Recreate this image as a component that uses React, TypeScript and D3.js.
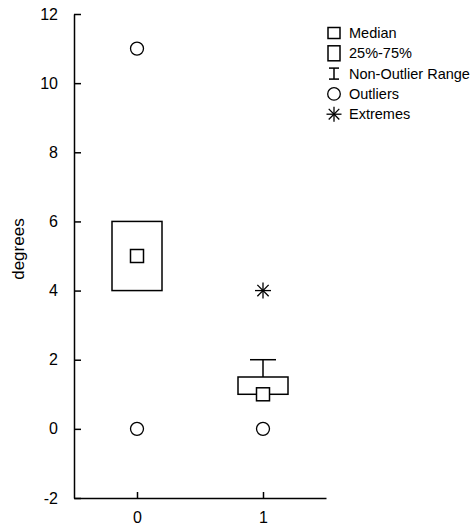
import React, { useEffect, useRef } from "react";
import * as d3 from "d3";

// box-plot summaries per category
const categories = [0, 1];
const medians = [5, 1];
const q1 = [4, 1];
const q3 = [6, 1.5];
const whiskerLow = [4, 1];
const whiskerHigh = [6, 2];
const outliers = [
  { cat: 0, value: 11 },
  { cat: 0, value: 0 },
  { cat: 1, value: 0 },
];
const extremes = [{ cat: 1, value: 4 }];
const yTicks = [-2, 0, 2, 4, 6, 8, 10, 12];
const legendLabels = ["Median", "25%-75%", "Non-Outlier Range", "Outliers", "Extremes"];

const FONT = "'Liberation Sans', Arial, Helvetica, sans-serif";

function asterisk(g: any, cx: number, cy: number, r: number) {
  const d = r * Math.SQRT1_2;
  const segs = [
    [cx - r, cy, cx + r, cy],
    [cx, cy - r, cx, cy + r],
    [cx - d, cy - d, cx + d, cy + d],
    [cx - d, cy + d, cx + d, cy - d],
  ];
  segs.forEach(s => {
    g.append("line")
      .attr("x1", s[0]).attr("y1", s[1]).attr("x2", s[2]).attr("y2", s[3])
      .attr("stroke", "#000").attr("stroke-width", 1.3);
  });
}

export default function App() {
  const chart = useRef<SVGSVGElement>(null);

  useEffect(() => {
    const svg = d3.select(chart.current);
    svg.selectAll("*").remove();

    const x = d3.scaleLinear().domain([-0.5, 1.5]).range([74, 326]);
    const y = d3.scaleLinear().domain([-2, 12]).range([498, 14]);
    const boxW = 50;
    const sw = 1.5;

    // y axis (plain hyphen for negatives, like the original)
    const yAxis = d3.axisLeft(y).tickValues(yTicks).tickSize(-7).tickSizeOuter(0).tickPadding(16)
      .tickFormat(d => String(d));
    const gy = svg.append("g").attr("transform", "translate(74,0)").call(yAxis);
    gy.select(".domain").attr("stroke-width", sw);
    gy.selectAll(".tick line").attr("stroke-width", sw);
    gy.selectAll("text").attr("font-family", FONT).attr("font-size", 16).attr("fill", "#000");

    // x axis
    const xAxis = d3.axisBottom(x).tickValues(categories).tickSize(-6).tickSizeOuter(0).tickPadding(14)
      .tickFormat(d => String(d));
    const gx = svg.append("g").attr("transform", "translate(0,498)").call(xAxis);
    gx.select(".domain").attr("stroke-width", sw);
    gx.selectAll(".tick line").attr("stroke-width", sw);
    gx.selectAll("text").attr("font-family", FONT).attr("font-size", 16).attr("fill", "#000");

    svg.append("text")
      .attr("transform", `translate(24,${y(5.2)}) rotate(-90)`)
      .attr("text-anchor", "middle")
      .attr("font-family", FONT).attr("font-size", 17)
      .text("degrees");

    const plot = svg.append("g");

    categories.forEach((c, i) => {
      const cx = x(c);
      // whiskers
      if (whiskerHigh[i] > q3[i]) {
        plot.append("line").attr("x1", cx).attr("x2", cx)
          .attr("y1", y(q3[i])).attr("y2", y(whiskerHigh[i]))
          .attr("stroke", "#000").attr("stroke-width", sw);
        plot.append("line").attr("x1", cx - 13).attr("x2", cx + 13)
          .attr("y1", y(whiskerHigh[i])).attr("y2", y(whiskerHigh[i]))
          .attr("stroke", "#000").attr("stroke-width", sw);
      }
      if (whiskerLow[i] < q1[i]) {
        plot.append("line").attr("x1", cx).attr("x2", cx)
          .attr("y1", y(q1[i])).attr("y2", y(whiskerLow[i]))
          .attr("stroke", "#000").attr("stroke-width", sw);
        plot.append("line").attr("x1", cx - 13).attr("x2", cx + 13)
          .attr("y1", y(whiskerLow[i])).attr("y2", y(whiskerLow[i]))
          .attr("stroke", "#000").attr("stroke-width", sw);
      }
      // box
      plot.append("rect")
        .attr("x", cx - boxW / 2).attr("y", y(q3[i]))
        .attr("width", boxW).attr("height", y(q1[i]) - y(q3[i]))
        .attr("fill", "none").attr("stroke", "#000").attr("stroke-width", sw);
      // median
      plot.append("rect")
        .attr("x", cx - 6.5).attr("y", y(medians[i]) - 6.5)
        .attr("width", 13).attr("height", 13)
        .attr("fill", "#fff").attr("stroke", "#000").attr("stroke-width", sw);
    });

    plot.selectAll(".outlier")
      .data(outliers)
      .enter()
      .append("circle")
        .attr("class", "outlier")
        .attr("cx", d => x(d.cat))
        .attr("cy", d => y(d.value))
        .attr("r", 6.5)
        .attr("fill", "none").attr("stroke", "#000").attr("stroke-width", 1.3);

    extremes.forEach(d => asterisk(plot, x(d.cat), y(d.value), 8));

    // legend
    const lg = svg.append("g");
    const lx = 334;
    const rowY = (i: number) => 33 + i * 20.3;
    lg.append("rect").attr("x", lx - 6).attr("y", rowY(0) - 5.5).attr("width", 12).attr("height", 11)
      .attr("fill", "none").attr("stroke", "#000").attr("stroke-width", sw);
    lg.append("rect").attr("x", lx - 6).attr("y", rowY(1) - 7.5).attr("width", 12).attr("height", 15)
      .attr("fill", "none").attr("stroke", "#000").attr("stroke-width", sw);
    const iy = rowY(2);
    lg.append("line").attr("x1", lx).attr("x2", lx).attr("y1", iy - 5.5).attr("y2", iy + 5.5)
      .attr("stroke", "#000").attr("stroke-width", sw);
    lg.append("line").attr("x1", lx - 5).attr("x2", lx + 5).attr("y1", iy - 5.5).attr("y2", iy - 5.5)
      .attr("stroke", "#000").attr("stroke-width", sw);
    lg.append("line").attr("x1", lx - 5).attr("x2", lx + 5).attr("y1", iy + 5.5).attr("y2", iy + 5.5)
      .attr("stroke", "#000").attr("stroke-width", sw);
    lg.append("circle").attr("cx", lx).attr("cy", rowY(3)).attr("r", 6.3)
      .attr("fill", "none").attr("stroke", "#000").attr("stroke-width", 1.3);
    asterisk(lg, lx, rowY(4), 7.5);

    lg.selectAll(".lt")
      .data(legendLabels)
      .enter()
      .append("text")
        .attr("class", "lt")
        .attr("x", 349)
        .attr("y", (d, i) => rowY(i))
        .attr("dy", "0.35em")
        .attr("font-family", FONT).attr("font-size", 14.5)
        .text(d => d);

    return () => {
      svg.selectAll("*").remove();
    };
  }, []);

  return (
    <svg
      ref={chart}
      width={472}
      height={530}
      style={{ position: "absolute", left: 0, top: 0, background: "#fff" }}
    ></svg>
  );
}
